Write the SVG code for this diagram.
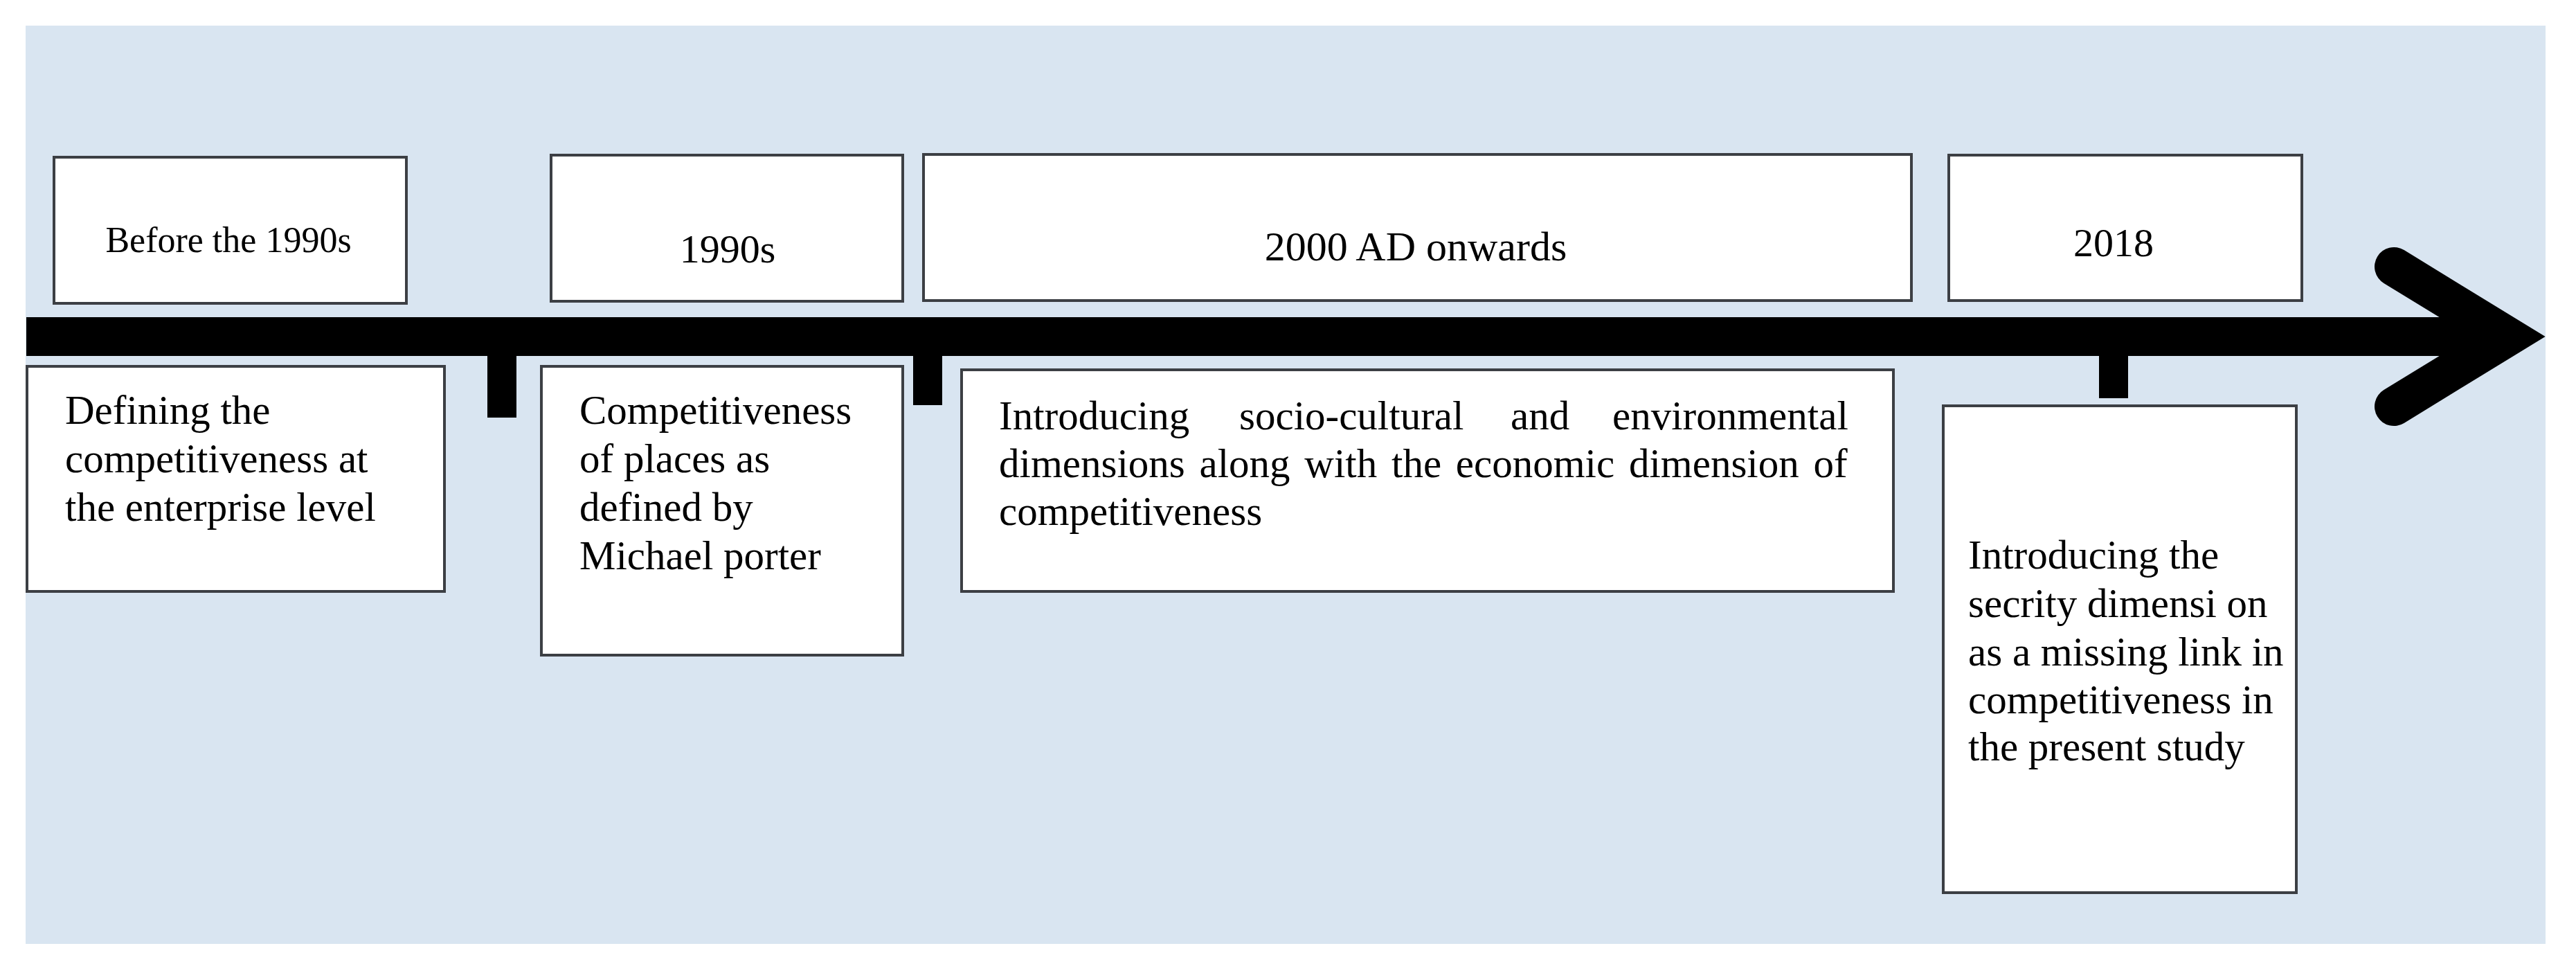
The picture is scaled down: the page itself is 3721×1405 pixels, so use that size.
<svg xmlns="http://www.w3.org/2000/svg" width="3721" height="1405" viewBox="0 0 3721 1405">
<style>
.box{fill:#ffffff;stroke:#3c3f44;stroke-width:4}
.t{font-family:"Liberation Serif","Times New Roman",serif;font-size:59px;fill:#000}
.bar{fill:#000}
</style>
<rect x="0" y="0" width="3721" height="1405" fill="#ffffff"/>
<rect x="37" y="37" width="3640" height="1326" fill="#d9e5f1"/>
<g id="connectors">
<rect class="bar" x="38" y="458" width="3565" height="56"/>
<polyline points="3458,385 3623,486 3458,587" fill="none" stroke="#000" stroke-width="56" stroke-linecap="round" stroke-linejoin="miter" stroke-miterlimit="10"/>
<rect class="bar" x="704" y="510" width="42" height="93"/>
<rect class="bar" x="1319" y="510" width="42" height="75"/>
<rect class="bar" x="3032" y="510" width="42" height="65"/>
</g>
<g id="before1990">
<rect class="box" x="78" y="227" width="509" height="211"/>
<text class="t" x="330" y="364" text-anchor="middle" style="font-size:52px">Before the 1990s</text>
</g>
<g id="y1990">
<rect class="box" x="796" y="224" width="508" height="211"/>
<text class="t" x="1051" y="379" text-anchor="middle" style="font-size:58px">1990s</text>
</g>
<g id="y2000">
<rect class="box" x="1334" y="223" width="1427" height="211"/>
<text class="t" x="2045" y="376" text-anchor="middle" style="font-size:60px">2000 AD onwards</text>
</g>
<g id="y2018">
<rect class="box" x="2815" y="224" width="510" height="210"/>
<text class="t" x="2995" y="370" style="font-size:58px">2018</text>
</g>
<g id="enterprise">
<rect class="box" x="39" y="529" width="603" height="325"/>
<text class="t"><tspan x="94" y="612">Defining the</tspan><tspan x="94" y="682">competitiveness at</tspan><tspan x="94" y="752">the enterprise level</tspan></text>
</g>
<g id="porter">
<rect class="box" x="782" y="529" width="522" height="417"/>
<text class="t"><tspan x="837" y="612">Competitiveness</tspan><tspan x="837" y="682">of places as</tspan><tspan x="837" y="752">defined by</tspan><tspan x="837" y="822">Michael porter</tspan></text>
</g>
<g id="sociocultural">
<rect class="box" x="1389" y="534" width="1346" height="320"/>
<text class="t"><tspan x="1443" y="620">Introducing</tspan><tspan x="1790" y="620">socio-cultural</tspan><tspan x="2182" y="620">and</tspan><tspan x="2329" y="620">environmental</tspan></text>
<text class="t" x="1443" y="689" word-spacing="6">dimensions along with the economic dimension of</text>
<text class="t" x="1443" y="758">competitiveness</text>
</g>
<g id="security">
<rect class="box" x="2807" y="586" width="510" height="703"/>
<text class="t"><tspan x="2843" y="821">Introducing the</tspan><tspan x="2843" y="891">secrity dimensi on</tspan><tspan x="2843" y="961">as a missing link in</tspan><tspan x="2843" y="1030">competitiveness in</tspan><tspan x="2843" y="1098">the present study</tspan></text>
</g>
</svg>
